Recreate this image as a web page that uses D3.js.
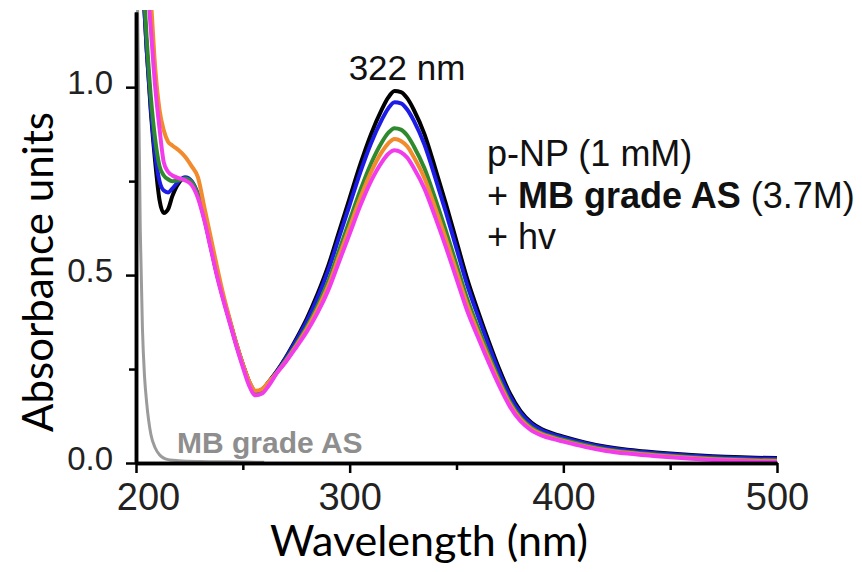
<!DOCTYPE html>
<html>
<head>
<meta charset="utf-8">
<script src="https://cdn.jsdelivr.net/npm/d3@7"></script>
<style>
  body { margin: 0; background: #fff; }
  svg { display: block; }
</style>
</head>
<body>
<svg id="chart" width="862" height="572"></svg>
<script>
// wavelengths (nm) shared by the p-NP spectra
const wavelengths = [201, 203, 205, 207, 209, 211, 213, 215, 217, 220, 223, 226, 229, 232, 235, 238, 241, 244, 247, 250, 253, 256, 259, 262,
  266, 270, 275, 280, 285, 290, 295, 300, 305, 310, 315, 318, 321, 324, 327, 330, 335, 340, 345, 350, 355, 360, 365, 370, 375, 380,
  385, 390, 395, 400, 410, 420, 430, 440, 450, 460, 470, 480, 490, 500];

const blackVals = [1.45, 1.3, 1.1, 0.93, 0.8, 0.7, 0.665, 0.675, 0.71, 0.745, 0.758, 0.745, 0.71, 0.65, 0.575, 0.5, 0.435, 0.375, 0.315, 0.262, 0.215, 0.19, 0.195, 0.215,
  0.245, 0.28, 0.33, 0.385, 0.45, 0.525, 0.615, 0.705, 0.795, 0.875, 0.94, 0.972, 0.99, 0.987, 0.97, 0.94, 0.875, 0.785, 0.69, 0.59, 0.49, 0.405, 0.325, 0.25, 0.185, 0.138,
  0.108, 0.09, 0.079, 0.07, 0.055, 0.043, 0.035, 0.03, 0.025, 0.021, 0.018, 0.016, 0.014, 0.013];

const blueVals = [1.45, 1.3, 1.1, 0.94, 0.82, 0.75, 0.725, 0.72, 0.73, 0.75, 0.76, 0.75, 0.715, 0.655, 0.578, 0.502, 0.437, 0.376, 0.316, 0.262, 0.215, 0.19, 0.195, 0.214,
  0.244, 0.278, 0.326, 0.378, 0.44, 0.513, 0.6, 0.687, 0.774, 0.851, 0.913, 0.943, 0.96, 0.957, 0.94, 0.911, 0.847, 0.76, 0.668, 0.571, 0.474, 0.392, 0.314, 0.241, 0.178, 0.133,
  0.104, 0.087, 0.076, 0.068, 0.053, 0.041, 0.033, 0.028, 0.023, 0.019, 0.016, 0.014, 0.012, 0.011];

const greenVals = [1.45, 1.32, 1.13, 0.97, 0.86, 0.79, 0.765, 0.755, 0.75, 0.752, 0.757, 0.748, 0.712, 0.652, 0.577, 0.5, 0.435, 0.374, 0.314, 0.26, 0.213, 0.188, 0.193, 0.212,
  0.242, 0.273, 0.316, 0.363, 0.419, 0.484, 0.565, 0.646, 0.726, 0.797, 0.853, 0.878, 0.891, 0.887, 0.871, 0.843, 0.784, 0.704, 0.618, 0.528, 0.437, 0.361, 0.289, 0.222, 0.163, 0.121,
  0.095, 0.079, 0.07, 0.062, 0.048, 0.036, 0.029, 0.024, 0.019, 0.015, 0.012, 0.01, 0.008, 0.007];

const orangeVals = [1.7, 1.55, 1.38, 1.23, 1.05, 0.94, 0.885, 0.855, 0.845, 0.832, 0.815, 0.79, 0.76, 0.68, 0.6, 0.52, 0.445, 0.38, 0.318, 0.264, 0.217, 0.192, 0.197, 0.215,
  0.241, 0.27, 0.312, 0.357, 0.41, 0.472, 0.55, 0.628, 0.706, 0.774, 0.827, 0.85, 0.862, 0.857, 0.842, 0.814, 0.758, 0.68, 0.597, 0.509, 0.421, 0.348, 0.279, 0.214, 0.157, 0.116,
  0.091, 0.076, 0.067, 0.059, 0.045, 0.034, 0.027, 0.022, 0.017, 0.013, 0.01, 0.008, 0.006, 0.005];

const magentaVals = [1.6, 1.45, 1.3, 1.15, 1.0, 0.89, 0.8, 0.775, 0.765, 0.758, 0.752, 0.74, 0.705, 0.645, 0.57, 0.495, 0.43, 0.37, 0.31, 0.255, 0.205, 0.18, 0.185, 0.205,
  0.24, 0.268, 0.308, 0.35, 0.4, 0.46, 0.535, 0.61, 0.685, 0.75, 0.8, 0.822, 0.832, 0.827, 0.812, 0.785, 0.73, 0.655, 0.575, 0.49, 0.405, 0.335, 0.268, 0.205, 0.15, 0.111,
  0.087, 0.073, 0.064, 0.057, 0.043, 0.032, 0.025, 0.02, 0.015, 0.011, 0.008, 0.006, 0.004, 0.003];

// MB grade ammonium sulfate alone
const blankWavelengths = [200, 201, 202, 203, 204, 205, 207, 209, 211, 213, 216, 220, 230, 245, 260];
const blankVals = [1.5, 1.1, 0.62, 0.36, 0.23, 0.16, 0.075, 0.04, 0.022, 0.013, 0.008, 0.006, 0.004, 0.003, 0.002];

const seriesNames = ["black", "blue", "green", "orange", "magenta"];
const seriesColors = ["#000000", "#1c1ce6", "#2f8a2f", "#f28a2e", "#f23cec"];
const seriesVals = [blackVals, blueVals, greenVals, orangeVals, magentaVals];

const xTicks = [200, 300, 400, 500];
const xMinor = [250, 350, 450];
const yTicks = [0, 0.5, 1.0];
const yMinor = [0.25, 0.75];

const svg = d3.select("#chart");
const plotLeft = 136, plotRight = 777, plotTop = 12, plotBottom = 463;

const x = d3.scaleLinear().domain([200, 500]).range([plotLeft, plotRight]);
const y = d3.scaleLinear().domain([0, 1.2]).range([plotBottom, plotTop]);

svg.append("clipPath").attr("id", "plot")
  .append("rect").attr("x", plotLeft).attr("y", plotTop - 2)
  .attr("width", plotRight - plotLeft).attr("height", plotBottom - plotTop + 2);

const line = d3.line()
  .x(d => x(d[0]))
  .y(d => y(d[1]))
  .curve(d3.curveMonotoneX);

const plot = svg.append("g").attr("clip-path", "url(#plot)");

// gray blank spectrum
plot.append("path")
  .datum(blankWavelengths.map((w, i) => [w, blankVals[i]]))
  .attr("d", line)
  .attr("fill", "none")
  .attr("stroke", "#9b9b9b")
  .attr("stroke-width", 3);

seriesNames.forEach((name, k) => {
  plot.append("path")
    .datum(wavelengths.map((w, i) => [w, seriesVals[k][i]]))
    .attr("class", "spec " + name)
    .attr("d", line)
    .attr("fill", "none")
    .attr("stroke", seriesColors[k])
    .attr("stroke-width", 4)
    .attr("stroke-linejoin", "round");
});

// axes
const tickFont = "'Liberation Sans', Arial, sans-serif";

const xAxis = svg.append("g")
  .attr("transform", `translate(0,${plotBottom})`)
  .call(d3.axisBottom(x).tickValues(xTicks).tickFormat(d3.format("d")).tickSize(10).tickSizeOuter(0).tickPadding(10));
svg.append("g")
  .attr("transform", `translate(0,${plotBottom})`)
  .call(d3.axisBottom(x).tickValues(xMinor).tickFormat("").tickSize(7).tickSizeOuter(0));

const yAxis = svg.append("g")
  .attr("transform", `translate(${plotLeft},0)`)
  .call(d3.axisLeft(y).tickValues(yTicks).tickFormat(d3.format(".1f")).tickSize(10).tickSizeOuter(0).tickPadding(13));
svg.append("g")
  .attr("transform", `translate(${plotLeft},0)`)
  .call(d3.axisLeft(y).tickValues(yMinor).tickFormat("").tickSize(7).tickSizeOuter(0));

svg.selectAll(".domain").attr("stroke", "#000").attr("stroke-width", 3.5);
svg.selectAll(".tick line").attr("stroke", "#000").attr("stroke-width", 2.5);
xAxis.selectAll("text").attr("font-family", tickFont).attr("font-size", 38).attr("fill", "#222");
// the first wavelength label sits a little right so it clears "0.0"
xAxis.selectAll(".tick text").filter(d => d === 200).attr("dx", 12);
yAxis.selectAll("text").attr("font-family", tickFont).attr("font-size", 33).attr("fill", "#222").attr("dy", "0.2em");

// axis titles
svg.append("text")
  .attr("x", 429)
  .attr("y", 556)
  .attr("text-anchor", "middle")
  .attr("font-family", "Lato, 'Open Sans', sans-serif")
  .attr("font-size", 43)
  .attr("fill", "#000")
  .text("Wavelength (nm)");

svg.append("text")
  .attr("transform", "translate(53,272) rotate(-90)")
  .attr("text-anchor", "middle")
  .attr("font-family", "Lato, 'Open Sans', sans-serif")
  .attr("font-size", 42)
  .attr("fill", "#000")
  .text("Absorbance units");

// annotations
svg.append("text")
  .attr("x", 407).attr("y", 80)
  .attr("text-anchor", "middle")
  .attr("font-family", tickFont)
  .attr("font-size", 35)
  .attr("fill", "#111")
  .text("322 nm");

const legendX = 487;
svg.append("text")
  .attr("x", legendX).attr("y", 166)
  .attr("font-family", tickFont).attr("font-size", 36).attr("fill", "#111")
  .text("p-NP (1 mM)");

const l2 = svg.append("text")
  .attr("x", legendX).attr("y", 208)
  .attr("font-family", tickFont).attr("font-size", 36).attr("fill", "#111");
l2.append("tspan").text("+ ");
l2.append("tspan").attr("font-weight", "bold").text("MB grade AS");
l2.append("tspan").text(" (3.7M)");

svg.append("text")
  .attr("x", legendX).attr("y", 249)
  .attr("font-family", tickFont).attr("font-size", 36).attr("fill", "#111")
  .text("+ hv");

svg.append("text")
  .attr("x", 177).attr("y", 453)
  .attr("font-family", tickFont).attr("font-size", 30).attr("font-weight", "bold")
  .attr("fill", "#8e8e8e")
  .text("MB grade AS");
</script>
</body>
</html>
